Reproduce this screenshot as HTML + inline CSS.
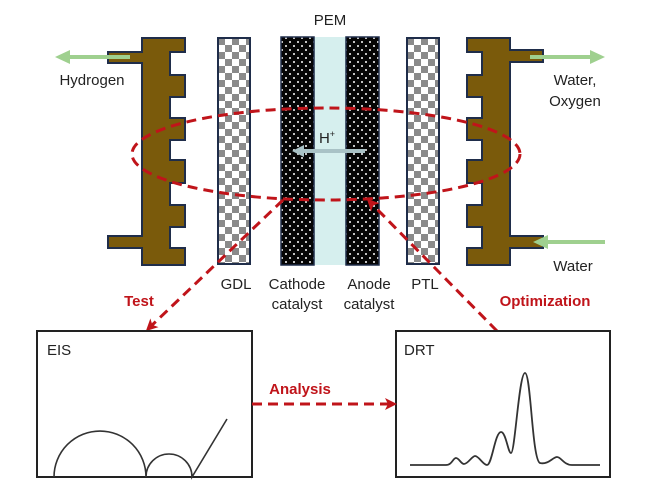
<!DOCTYPE html>
<html><head><meta charset="utf-8"><style>
html,body{margin:0;padding:0;background:#fff}
svg{display:block}
text{font-family:"Liberation Sans",Arial,sans-serif}
</style></head><body>
<svg width="662" height="495" viewBox="0 0 662 495" xmlns="http://www.w3.org/2000/svg">
<defs>
<pattern id="chk" x="218" y="38" width="14" height="14" patternUnits="userSpaceOnUse">
<rect width="14" height="14" fill="#fff"/><rect width="7" height="7" fill="#8a8a8a"/><rect x="7" y="7" width="7" height="7" fill="#8a8a8a"/>
</pattern>
<pattern id="chk2" x="407" y="38" width="14" height="14" patternUnits="userSpaceOnUse">
<rect width="14" height="14" fill="#fff"/><rect width="7" height="7" fill="#8a8a8a"/><rect x="7" y="7" width="7" height="7" fill="#8a8a8a"/>
</pattern>
<pattern id="dots" x="0" y="0" width="8" height="8" patternUnits="userSpaceOnUse">
<rect width="8" height="8" fill="#050505"/><circle cx="2" cy="2" r="1" fill="#fff"/><circle cx="6" cy="6" r="1" fill="#fff"/>
</pattern>
<marker id="ah" markerWidth="12" markerHeight="12" refX="9" refY="6" orient="auto" markerUnits="userSpaceOnUse">
<path d="M0,0 L12,6 L0,12 L3,6 z" fill="#c0141a"/>
</marker>
</defs>

<path d="M142,38 H185 V52 H170 V75 H185 V97 H170 V118 H185 V140 H170 V160 H185 V183 H170 V205 H185 V227 H170 V248 H185 V265 H142 V248 H108 V236 H142 V63 H108 V52 H142 Z" fill="#7a5a0b" stroke="#1f2d4a" stroke-width="2"/>
<path d="M510,38 H467 V52 H482 V75 H467 V97 H482 V118 H467 V140 H482 V160 H467 V183 H482 V205 H467 V227 H482 V248 H467 V265 H510 V248 H543 V236 H510 V62 H543 V50 H510 Z" fill="#7a5a0b" stroke="#1f2d4a" stroke-width="2"/>

<rect x="218" y="38" width="32" height="226" fill="url(#chk)" stroke="#1f2d4a" stroke-width="2"/>
<rect x="407" y="38" width="32" height="226" fill="url(#chk2)" stroke="#1f2d4a" stroke-width="2"/>
<rect x="314" y="37" width="32" height="228" fill="#d6efee"/>
<rect x="281" y="37" width="33" height="228" fill="url(#dots)" stroke="#1f2d4a" stroke-width="1.5"/>
<rect x="346" y="37" width="33" height="228" fill="url(#dots)" stroke="#1f2d4a" stroke-width="1.5"/>

<line x1="365" y1="151" x2="300" y2="151" stroke="#a9c2c6" stroke-width="4"/>
<path d="M292,151 L304,145 L304,157 z" fill="#a9c2c6"/>
<text x="327" y="143" font-size="15" text-anchor="middle" fill="#222">H<tspan font-size="9" dy="-6">+</tspan></text>

<line x1="130" y1="57" x2="68" y2="57" stroke="#9fd08f" stroke-width="4"/>
<path d="M55,57 L70,50 L70,64 z" fill="#9fd08f"/>
<line x1="530" y1="57" x2="592" y2="57" stroke="#9fd08f" stroke-width="4"/>
<path d="M605,57 L590,50 L590,64 z" fill="#9fd08f"/>
<line x1="605" y1="242" x2="546" y2="242" stroke="#9fd08f" stroke-width="4"/>
<path d="M533,242 L548,235 L548,249 z" fill="#9fd08f"/>

<g font-size="15" fill="#222">
<text x="330" y="25" text-anchor="middle">PEM</text>
<text x="92" y="85" text-anchor="middle">Hydrogen</text>
<text x="575" y="85" text-anchor="middle">Water,</text>
<text x="575" y="106" text-anchor="middle">Oxygen</text>
<text x="573" y="271" text-anchor="middle">Water</text>
<text x="236" y="289" text-anchor="middle">GDL</text>
<text x="297" y="289" text-anchor="middle">Cathode</text>
<text x="297" y="309" text-anchor="middle">catalyst</text>
<text x="369" y="289" text-anchor="middle">Anode</text>
<text x="369" y="309" text-anchor="middle">catalyst</text>
<text x="425" y="289" text-anchor="middle">PTL</text>
</g>

<ellipse cx="326" cy="154" rx="194" ry="46" fill="none" stroke="#c0141a" stroke-width="3" stroke-dasharray="10,6"/>

<line x1="283" y1="200" x2="148" y2="329" stroke="#c0141a" stroke-width="3" stroke-dasharray="10,6" marker-end="url(#ah)"/>
<line x1="497" y1="331" x2="369" y2="201" stroke="#c0141a" stroke-width="3" stroke-dasharray="10,6" marker-end="url(#ah)"/>
<text x="139" y="306" font-size="15" font-weight="bold" fill="#c0141a" text-anchor="middle">Test</text>
<text x="545" y="306" font-size="15" font-weight="bold" fill="#c0141a" text-anchor="middle">Optimization</text>

<rect x="37" y="331" width="215" height="146" fill="#fff" stroke="#222" stroke-width="2"/>
<rect x="396" y="331" width="214" height="146" fill="#fff" stroke="#222" stroke-width="2"/>
<text x="47" y="355" font-size="15" fill="#222">EIS</text>
<text x="404" y="355" font-size="15" fill="#222">DRT</text>

<path d="M54,477 A46,46 0 0 1 146,477 A23,23 0 0 1 192,477 L227,419" fill="none" stroke="#333" stroke-width="1.6"/>

<path d="M410,465 L446,465 C452,465 453,458 456,458 C459,458 461,464 464,464 C468,464 472,456 475,456 C479,456 483,465 487,465 C492,465 495,432 501,432 C506,432 508,453 511,453 C515,453 519,373 525,373 C531,373 532,460 540,463 C548,465 553,457 557,457 C561,457 564,465 572,465 L600,465" fill="none" stroke="#333" stroke-width="1.8"/>

<line x1="252" y1="404" x2="394" y2="404" stroke="#c0141a" stroke-width="3" stroke-dasharray="10,6" marker-end="url(#ah)"/>
<text x="300" y="394" font-size="15" font-weight="bold" fill="#c0141a" text-anchor="middle">Analysis</text>
</svg>
</body></html>
